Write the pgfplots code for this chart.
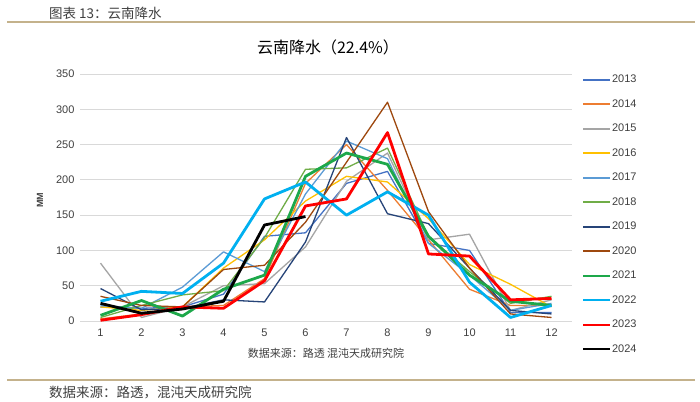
\documentclass[border=0pt]{standalone}
\usepackage{fontspec}
\setmainfont{Liberation Sans}
\newfontfamily\cjk{Noto Sans CJK SC}
\usepackage{pgfplots}
\pgfplotsset{compat=1.18}
\definecolor{cA}{HTML}{4472C4}
\definecolor{cB}{HTML}{ED7D31}
\definecolor{cC}{HTML}{A5A5A5}
\definecolor{cD}{HTML}{FFC000}
\definecolor{cE}{HTML}{5B9BD5}
\definecolor{cF}{HTML}{70AD47}
\definecolor{cG}{HTML}{264478}
\definecolor{cH}{HTML}{9E480E}
\definecolor{cI}{HTML}{1DA84A}
\definecolor{cJ}{HTML}{00B0F0}
\definecolor{cK}{HTML}{FF0000}
\definecolor{cL}{HTML}{000000}
\definecolor{tan}{HTML}{C4B28C}
\definecolor{gridc}{HTML}{D9D9D9}
\definecolor{txt}{HTML}{404040}
\begin{document}
\begin{tikzpicture}[x=1bp,y=1bp]
\path[use as bounding box, fill=white] (0,0) rectangle (700,401);
% header
\node[anchor=west, text=txt, inner sep=0] at (49,388) {\cjk\fontsize{13.5bp}{15bp}\selectfont 图表 13：云南降水};
\draw[tan, line width=1.2bp] (7,379) -- (695,379);
\draw[tan, line width=1.2bp] (7,21) -- (695,21);
\node[anchor=west, text=txt, inner sep=0] at (49,9) {\cjk\fontsize{13.5bp}{15bp}\selectfont 数据来源：路透，混沌天成研究院};
% title
\node[inner sep=0] at (328,354) {\cjk\fontsize{16bp}{18bp}\selectfont 云南降水（22.4\%）};
% source inside
\node[inner sep=0, text=txt] at (326,48) {\cjk\fontsize{11bp}{13bp}\selectfont 数据来源：路透\ 混沌天成研究院};
% y label
\node[rotate=90, inner sep=0, text=txt] at (40,201) {\fontsize{9bp}{11bp}\selectfont\bfseries MM};
\begin{axis}[
  at={(80bp,80bp)}, anchor=south west,
  scale only axis, width=492bp, height=247bp,
  xmin=0.5, xmax=12.5, ymin=0, ymax=350,
  xtick={1,...,12}, ytick={0,50,...,350},
  axis line style={draw=none},
  major tick length=0pt,
  ymajorgrids, grid style={gridc, line width=0.8bp},
  /pgf/number format/assume math mode=true,
  ticklabel style={font=\fontsize{11bp}{13bp}\selectfont, text=txt},
  yticklabel style={xshift=-2bp},
  xticklabel style={yshift=-4bp},
  legend style={at={(1.02,1.0)}, anchor=north west, draw=none, fill=none,
     font=\fontsize{11bp}{13bp}\selectfont, row sep=13.3bp, inner sep=0pt,
     nodes={inner sep=1bp, text=txt}},
  legend cell align=left,
  legend image code/.code={\draw[#1] (0bp,0bp) -- (27bp,0bp);},
  line join=round,
  thin/.style={line width=1.3bp, legend image post style={line width=2bp}},
  thick/.style={line width=2.8bp},
]
\addplot[cA, thin] coordinates {(1,20)(2,18)(3,20)(4,38)(5,120)(6,125)(7,195)(8,212)(9,110)(10,100)(11,12)(12,12)};
\addlegendentry{2013}
\addplot[cB, thin] coordinates {(1,3)(2,10)(3,20)(4,22)(5,60)(6,195)(7,250)(8,185)(9,115)(10,45)(11,22)(12,22)};
\addlegendentry{2014}
\addplot[cC, thin] coordinates {(1,82)(2,5)(3,20)(4,50)(5,53)(6,105)(7,198)(8,238)(9,115)(10,123)(11,15)(12,30)};
\addlegendentry{2015}
\addplot[cD, thin] coordinates {(1,20)(2,15)(3,20)(4,75)(5,115)(6,170)(7,205)(8,197)(9,145)(10,80)(11,52)(12,20)};
\addlegendentry{2016}
\addplot[cE, thin] coordinates {(1,22)(2,18)(3,48)(4,98)(5,70)(6,180)(7,255)(8,230)(9,110)(10,65)(11,15)(12,25)};
\addlegendentry{2017}
\addplot[cF, thin] coordinates {(1,5)(2,22)(3,37)(4,43)(5,118)(6,215)(7,217)(8,245)(9,120)(10,70)(11,25)(12,35)};
\addlegendentry{2018}
\addplot[cG, thin] coordinates {(1,46)(2,16)(3,18)(4,30)(5,27)(6,112)(7,260)(8,152)(9,138)(10,75)(11,15)(12,10)};
\addlegendentry{2019}
\addplot[cH, thin] coordinates {(1,35)(2,22)(3,20)(4,73)(5,79)(6,140)(7,225)(8,310)(9,155)(10,75)(11,10)(12,5)};
\addlegendentry{2020}
\addplot[cI, thick] coordinates {(1,8)(2,29)(3,7)(4,45)(5,65)(6,205)(7,238)(8,222)(9,120)(10,65)(11,28)(12,22)};
\addlegendentry{2021}
\addplot[cJ, thick] coordinates {(1,28)(2,42)(3,39)(4,82)(5,173)(6,197)(7,150)(8,183)(9,150)(10,55)(11,5)(12,22)};
\addlegendentry{2022}
\addplot[cK, thick] coordinates {(1,1)(2,9)(3,20)(4,18)(5,57)(6,163)(7,173)(8,267)(9,95)(10,92)(11,30)(12,32)};
\addlegendentry{2023}
\addplot[cL, thick] coordinates {(1,25)(2,11)(3,17)(4,28)(5,136)(6,148)};
\addlegendentry{2024}
\end{axis}
\end{tikzpicture}
\end{document}
